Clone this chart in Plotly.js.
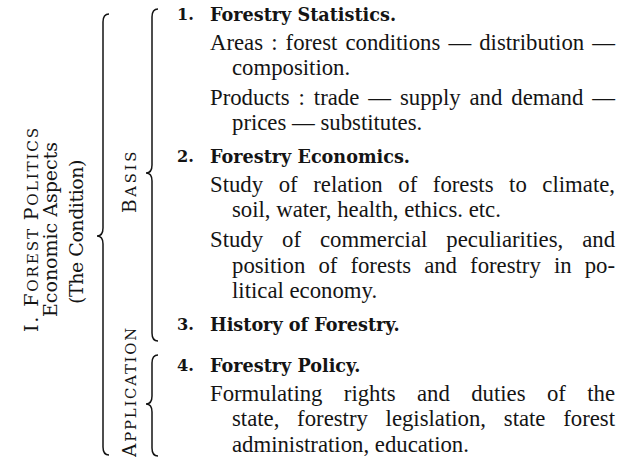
<!DOCTYPE html>
<html><head><meta charset="utf-8">
<script src="https://cdn.plot.ly/plotly-3.0.1.min.js"></script>
<style>html,body{margin:0;padding:0;background:#fff}#chart{width:624px;height:458px}</style>
</head><body><div id="chart"></div>
<script>
// ---- content ----
const sectionNumbers = ['1.', '2.', '3.', '4.'];
const sectionTitles = ['Forestry Statistics.', 'Forestry Economics.', 'History of Forestry.', 'Forestry Policy.'];
const statisticsParagraphs = [
  ['Areas : forest conditions — distribution —', 'composition.'],
  ['Products : trade — supply and demand —', 'prices — substitutes.']
];
const economicsParagraphs = [
  ['Study of relation of forests to climate,', 'soil, water, health, ethics. etc.'],
  ['Study of commercial peculiarities, and', 'position of forests and forestry in po-', 'litical economy.']
];
const historyParagraphs = [];
const policyParagraphs = [
  ['Formulating rights and duties of the', 'state, forestry legislation, state forest', 'administration, education.']
];
const leftLabels = ['I. Forest Politics', 'Economic Aspects', '(The Condition)'];
const groupLabels = ['Basis', 'Application'];

// ---- layout / style ----
const FONT = 'Liberation Serif';
const HEADFONT = 'DejaVu Serif';
const LABELFONT = 'DejaVu Serif';
const INK = '#141414';
const W = 624, H = 458;
const numX = 175, textX = 208, indentX = 230, rightX = 613;
const startY = 14, headToBody = 28, lineStep = 25.3, paraGap = 30, sectionGap = 34, headOnlyGap = 41;

const cv = document.createElement('canvas').getContext('2d');
function measure(txt, size, bold, fam) {
  cv.font = (bold ? 'bold ' : '') + size + 'px "' + (fam || FONT) + '"';
  return cv.measureText(txt).width;
}
function fitSize(txt, target, bold, fam) {
  return +(20 * target / measure(txt, 20, bold, fam)).toFixed(2);
}
// rotated label: optional small caps, stretched to a target length with letter-spacing
function spacedLabel(str, big, ratio, target, caps) {
  const pieces = [];
  const words = str.split(' ');
  words.forEach((w, i) => {
    const sp = i < words.length - 1 ? ' ' : '';
    if (caps && w.length > 2) {
      pieces.push({t: w[0].toUpperCase(), s: big});
      pieces.push({t: w.slice(1).toUpperCase() + sp, s: +(big * ratio).toFixed(2)});
    } else {
      pieces.push({t: w + sp, s: big});
    }
  });
  let natural = 0, chars = 0;
  pieces.forEach(p => { natural += measure(p.t, p.s, false, LABELFONT); chars += p.t.length; });
  const ls = ((target - natural) / chars).toFixed(2);
  return pieces.map(p => '<span style="font-size:' + p.s + 'px;letter-spacing:' + ls + 'px">' + p.t + '</span>').join('');
}

const bodySize = fitSize('administration, education.', 237, false);
const headSize = fitSize('Forestry Statistics.', 186, true, HEADFONT);

const annotations = [];
const shapes = [];
function addText(txt, x, y, size, bold) {
  annotations.push({
    text: bold ? '<b>' + txt + '</b>' : txt,
    x: x, y: y, xref: 'x', yref: 'y', xanchor: 'left', yanchor: 'middle',
    showarrow: false, font: {family: bold ? HEADFONT : FONT, size: size, color: INK}
  });
}

const allParagraphs = [statisticsParagraphs, economicsParagraphs, historyParagraphs, policyParagraphs];
let y = startY;
sectionTitles.forEach((title, s) => {
  addText(sectionNumbers[s], numX, y, headSize * 0.92, true);
  addText(title, textX, y, headSize, true);
  const paras = allParagraphs[s];
  paras.forEach((para, p) => {
    y += (p === 0 ? headToBody : paraGap);
    para.forEach((line, i) => {
      if (i > 0) y += lineStep;
      const x = i === 0 ? textX : indentX;
      let txt = line;
      if (i < para.length - 1) {
        const natural = measure(line, bodySize, false);
        const spaces = (line.match(/ /g) || []).length;
        const extra = spaces ? (rightX - x - natural) / spaces : 0;
        txt = '<span style="word-spacing:' + extra.toFixed(2) + 'px">' + line + '</span>';
      }
      addText(txt, x, y, bodySize, false);
    });
  });
  y += paras.length ? sectionGap : headOnlyGap;
});

// vertical labels
const SC = 0.8;
const leftX = [31, 50, 76], leftY = [229, 230, 232], leftLen = [206, 175, 144], leftSize = [19, 19, 19];
leftLabels.forEach((lab, i) => {
  annotations.push({text: spacedLabel(lab, leftSize[i], SC, leftLen[i], i === 0), x: leftX[i], y: leftY[i],
    xref: 'x', yref: 'y', textangle: -90, xanchor: 'center', yanchor: 'middle', showarrow: false,
    font: {family: LABELFONT, size: leftSize[i], color: INK}});
});
const groupX = [129, 129], groupY = [181, 392], groupLen = [64, 131], groupSize = 18.5;
groupLabels.forEach((lab, i) => {
  annotations.push({text: spacedLabel(lab, groupSize, SC, groupLen[i], true), x: groupX[i], y: groupY[i],
    xref: 'x', yref: 'y', textangle: -90, xanchor: 'center', yanchor: 'middle', showarrow: false,
    font: {family: LABELFONT, size: groupSize, color: INK}});
});

// braces "{"
function brace(x, yTop, yBot, yTip, w, r) {
  const p = 'M' + (x + w) + ',' + yTop + ' Q' + x + ',' + yTop + ' ' + x + ',' + (yTop + r) +
    ' L' + x + ',' + (yTip - r) + ' Q' + x + ',' + yTip + ' ' + (x - w) + ',' + yTip +
    ' Q' + x + ',' + yTip + ' ' + x + ',' + (yTip + r) +
    ' L' + x + ',' + (yBot - r) + ' Q' + x + ',' + yBot + ' ' + (x + w) + ',' + yBot;
  shapes.push({type: 'path', path: p, xref: 'x', yref: 'y', line: {color: INK, width: 1.5}});
}
brace(103, 14, 455, 236, 6, 8);
brace(152, 9, 341, 173, 6, 8);
brace(152, 355, 456, 404, 6, 8);

const layout = {
  width: W, height: H, margin: {l: 0, r: 0, t: 0, b: 0},
  paper_bgcolor: '#ffffff', plot_bgcolor: '#ffffff',
  xaxis: {range: [0, W], visible: false, fixedrange: true},
  yaxis: {range: [H, 0], visible: false, fixedrange: true},
  showlegend: false, annotations: annotations, shapes: shapes
};
Plotly.newPlot('chart', [], layout, {staticPlot: true, displayModeBar: false});
</script></body></html>
